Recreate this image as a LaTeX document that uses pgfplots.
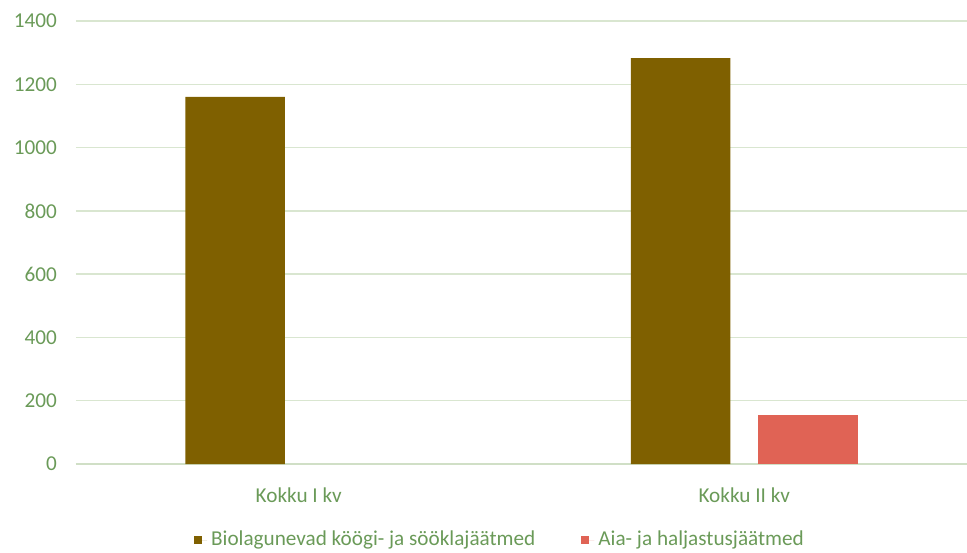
\documentclass[border=0pt]{standalone}
\usepackage{fontspec}
\setmainfont{Carlito}
\usepackage{pgfplots}
\pgfplotsset{compat=1.18}
\definecolor{brownbar}{HTML}{7F6000}
\definecolor{redbar}{HTML}{E06355}
\definecolor{txt}{HTML}{6A9A58}
\definecolor{gridcol}{HTML}{D9E6D0}
\definecolor{axisline}{HTML}{D0DFC6}
\begin{document}
\begin{tikzpicture}
\begin{axis}[
  at={(0,0)}, anchor=south west,
  scale only axis,
  width=445.5pt, height=221.5pt,
  ybar,
  xmin=-0.5, xmax=1.5,
  ymin=0, ymax=1400,
  ytick={0,200,...,1400},
  xtick={0,1},
  xticklabels={Kokku I kv, Kokku II kv},
  axis line style={draw=none},
  xtick style={draw=none}, ytick style={draw=none},
  ymajorgrids,
  major grid style={color=gridcol, line width=0.75pt},
  tick label style={font=\fontsize{10.6}{12}\selectfont, text=txt},
  /pgf/number format/assume math mode=true,
  /pgf/number format/1000 sep={},
  yticklabel style={xshift=-6pt},
  xticklabel style={yshift=-4pt},
  bar width=0.2237,
  legend style={at={(0.477,-0.1716)}, anchor=center, draw=none, fill=none,
    legend columns=2, font=\fontsize{10.6}{12}\selectfont, text=txt,
    /tikz/every even column/.append style={column sep=21pt}},
  legend image code/.code={\path (0pt,0pt) -- (6.5pt,0pt); \fill[#1] (0pt,-2pt) rectangle (4pt,2pt);},
  extra y ticks={0}, extra y tick labels={},
  extra y tick style={major grid style={color=axisline, line width=1pt}},
]
\addplot[ybar, fill=brownbar, draw=none, bar shift=-0.1429] coordinates {(0,1160) (1,1283)};
\addplot[ybar, fill=redbar, draw=none, bar shift=0.1429] coordinates {(1,155)};
\legend{Biolagunevad köögi- ja sööklajäätmed, Aia- ja haljastusjäätmed}
\end{axis}
\pgfresetboundingbox
\path (-38pt,-44pt) rectangle (445.5pt,232pt);
\end{tikzpicture}
\end{document}
